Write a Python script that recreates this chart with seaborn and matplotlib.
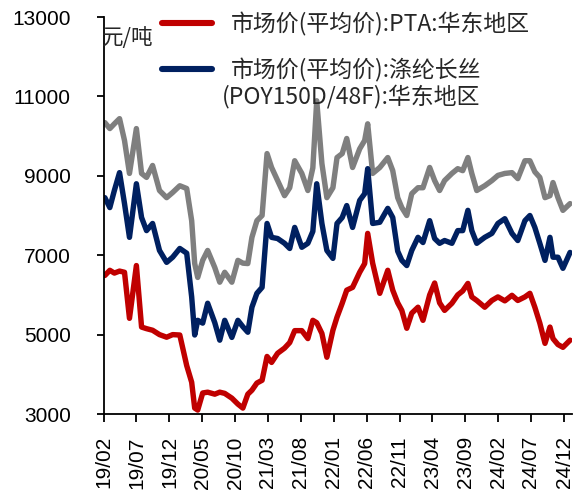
import matplotlib
matplotlib.use("Agg")
import matplotlib.pyplot as plt
import matplotlib.dates as mdates
import pandas as pd
import seaborn as sns

# Observation dates
dates = [
    "2019-02-05", "2019-02-28", "2019-03-21", "2019-04-14", "2019-05-07", "2019-05-30",
    "2019-07-01", "2019-07-25", "2019-08-17", "2019-09-14", "2019-10-16", "2019-11-18",
    "2019-12-16", "2020-01-18", "2020-02-19", "2020-03-13", "2020-03-27", "2020-04-10",
    "2020-05-03", "2020-05-26", "2020-06-28", "2020-07-21", "2020-08-13", "2020-09-15",
    "2020-10-13", "2020-11-05", "2020-11-28", "2020-12-17", "2021-01-09", "2021-02-02",
    "2021-02-25", "2021-03-18", "2021-04-15", "2021-05-17", "2021-06-10", "2021-07-03",
    "2021-08-05", "2021-09-02", "2021-09-25", "2021-10-13", "2021-11-06", "2021-11-29",
    "2021-12-27", "2022-01-15", "2022-02-08", "2022-03-01", "2022-03-28", "2022-04-30",
    "2022-05-23", "2022-06-06", "2022-06-29", "2022-08-01", "2022-09-07", "2022-09-30",
    "2022-10-23", "2022-11-11", "2022-12-04", "2022-12-27", "2023-01-25", "2023-02-17",
    "2023-03-20", "2023-04-12", "2023-05-05", "2023-05-28", "2023-07-01", "2023-07-28",
    "2023-08-20", "2023-09-13", "2023-10-01", "2023-10-24", "2023-11-30", "2024-01-02",
    "2024-01-30", "2024-03-02", "2024-04-04", "2024-05-01", "2024-06-03", "2024-06-26",
    "2024-07-19", "2024-08-11", "2024-09-04", "2024-09-27", "2024-10-11", "2024-11-03",
    "2024-11-26", "2024-12-29",
]

# PTA, East China (yuan/ton)
pta = [
    6490, 6620, 6550, 6600, 6570, 5410, 6740, 5190, 5150, 5110, 5000, 4935,
    5000, 4990, 4220, 3800, 3150, 3100, 3530, 3550, 3500, 3550, 3520, 3400,
    3250, 3150, 3500, 3600, 3780, 3850, 4450, 4300, 4530, 4660, 4800, 5100,
    5100, 4900, 5360, 5300, 5030, 4430, 5110, 5440, 5790, 6120, 6190, 6570,
    6790, 7550, 6800, 6040, 6620, 6120, 5800, 5610, 5160, 5540, 5690, 5360,
    6000, 6300, 5800, 5610, 5790, 6000, 6100, 6290, 5950, 5860, 5690, 5860,
    5950, 5850, 5990, 5860, 5950, 6040, 5690, 5290, 4780, 5190, 4900, 4750,
    4680, 4860,
]

# Polyester filament POY150D/48F, East China (yuan/ton)
poy = [
    8450, 8200, 8630, 9080, 8300, 7450, 8800, 7950, 7620, 7800, 7120, 6820,
    6950, 7170, 7050, 5950, 4990, 5360, 5290, 5790, 5300, 4860, 5360, 4930,
    5360, 5200, 5060, 5690, 6040, 6190, 7800, 7450, 7420, 7300, 7170, 7700,
    7200, 7300, 7600, 8800, 7800, 7120, 6920, 7800, 7950, 8250, 7700, 8380,
    8550, 9180, 7800, 7830, 8180, 7950, 7100, 6870, 6740, 7120, 7450, 7320,
    7870, 7420, 7300, 7370, 7300, 7620, 7620, 8130, 7620, 7300, 7450, 7550,
    7800, 7920, 7550, 7370, 7870, 8000, 7700, 7300, 6870, 7450, 6950, 6950,
    6670, 7070,
]

# Third price series (grey, not in legend)
grey = [
    10340, 10190, 10310, 10440, 9890, 9060, 10190, 9060, 8960, 9260, 8630, 8450,
    8580, 8750, 8680, 7870, 6790, 6440, 6870, 7120, 6690, 6320, 6570, 6320,
    6870, 6800, 6790, 7450, 7870, 8000, 9560, 9210, 8880, 8500, 8700, 9380,
    9060, 8630, 9200, 10890, 9310, 8450, 8700, 9460, 9560, 9940, 9210, 9680,
    9890, 10310, 9060, 9210, 9460, 9130, 8450, 8200, 8000, 8550, 8700, 8700,
    9210, 8880, 8630, 8880, 9060, 9180, 9130, 9460, 9060, 8630, 8750, 8880,
    9010, 9060, 9080, 8930, 9380, 9380, 9100, 8960, 8450, 8500, 8830, 8450,
    8130, 8300,
]

label_pta = "市场价(平均价):PTA:华东地区"
label_poy_head = "市场价(平均价):涤纶长丝"
label_poy_tail = "(POY150D/48F):华东地区"
label_grey = "其他"

tick_dates = pd.date_range("2019-02-01", "2024-12-01", freq="5MS")

sns.set_style("ticks")
plt.rcParams["font.family"] = ["Liberation Sans", "Noto Sans CJK SC", "DejaVu Sans"]
cjk = ["Noto Sans CJK SC", "DejaVu Sans"]

df = pd.DataFrame({"date": pd.to_datetime(dates), "grey": grey, "poy": poy, "pta": pta})
long_df = df.melt(id_vars="date", var_name="series", value_name="price")

palette = {"grey": "#7F7F7F", "poy": "#002060", "pta": "#C00000"}

fig = plt.figure(figsize=(5.79, 4.93), dpi=100)
ax = fig.add_axes([0.1796, 0.1602, 0.8083, 0.8053])

sns.lineplot(data=long_df, x="date", y="price", hue="series",
             hue_order=["grey", "poy", "pta"], palette=palette,
             linewidth=3.9, legend=False, ax=ax)
for ln in ax.lines:
    ln.set_solid_capstyle("round")
    ln.set_solid_joinstyle("round")

ax.set_ylim(3000, 13000)
ax.set_yticks(range(3000, 13001, 2000))
ax.set_xlim(pd.Timestamp("2019-02-01"), pd.Timestamp("2025-01-07"))
ax.set_xticks(tick_dates)
ax.xaxis.set_major_formatter(mdates.DateFormatter("%y/%m"))
ax.set_xlabel("")
ax.set_ylabel("")

for side in ("top", "right"):
    ax.spines[side].set_visible(False)
for side in ("left", "bottom"):
    ax.spines[side].set_linewidth(1.3)
    ax.spines[side].set_color("black")

ax.tick_params(axis="y", direction="out", length=5, width=1.3, pad=19,
               labelsize=15, colors="black")
ax.tick_params(axis="x", direction="out", length=6, width=1.3, pad=10,
               labelsize=15, colors="black", rotation=90)

# Legend for the two named series
handles = [plt.Line2D([], [], color=palette["pta"], linewidth=4.4, solid_capstyle="round"),
           plt.Line2D([], [], color=palette["poy"], linewidth=4.4, solid_capstyle="round")]
leg = ax.legend(handles, [label_pta, label_poy_head], loc="upper left",
                bbox_to_anchor=(162 / 579, 1 - 12 / 493), bbox_transform=fig.transFigure,
                frameon=False, borderpad=0, borderaxespad=0, handlelength=2.2,
                handletextpad=0.8, labelspacing=0.95,
                prop={"family": cjk, "size": 16.5})
fig.text(222 / 579, 1 - 97 / 493, label_poy_tail, ha="left", va="center",
         fontsize=16.5, family=cjk)

fig.text(102 / 579, 1 - 38 / 493, "元/吨", ha="left", va="center", fontsize=15.5,
         family=cjk)

fig.savefig("out.png", dpi=100)
